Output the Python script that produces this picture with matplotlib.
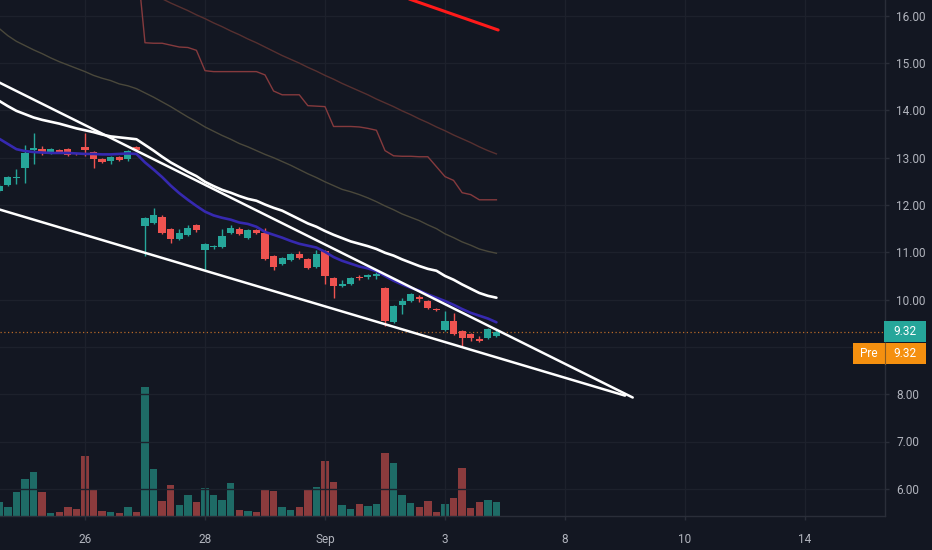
import numpy as np
import matplotlib
matplotlib.use("Agg")
import matplotlib.pyplot as plt
from matplotlib.patches import Rectangle
from matplotlib.lines import Line2D

# ---------------- data (hourly bars, bar 0 = first hour of Aug 26) ----------------
bar_start = -10
opens = [12.30, 12.43, 12.57, 12.79, 13.17, 13.19, 13.10, 13.17, 13.19, 13.09,
         13.23, 13.12, 12.98, 12.93, 13.02, 12.98, 13.23,
         11.56, 11.62, 11.75, 11.50, 11.29, 11.37, 11.58,
         11.05, 11.11, 11.12, 11.41, 11.50, 11.31, 11.48,
         11.41, 10.93, 10.76, 10.84, 10.97, 10.86, 10.69,
         11.03, 10.46, 10.29, 10.33, 10.48, 10.48, 10.50,
         10.25, 9.53, 9.89, 9.97, 10.04, 9.97, 9.81,
         9.36, 9.55, 9.34, 9.28, 9.17, 9.19, 9.23]
highs = [12.45, 12.62, 12.77, 13.27, 13.53, 13.25, 13.21, 13.19, 13.21, 13.10,
         13.53, 13.14, 13.00, 13.04, 13.03, 13.16, 13.25,
         11.75, 11.94, 11.78, 11.52, 11.50, 11.58, 11.60,
         11.20, 11.16, 11.50, 11.58, 11.54, 11.50, 11.50,
         11.52, 10.95, 10.90, 10.99, 11.03, 10.88, 11.05,
         11.05, 10.48, 10.42, 10.48, 10.52, 10.55, 10.59,
         10.27, 9.89, 10.04, 10.14, 10.10, 9.99, 9.83,
         9.76, 9.72, 9.36, 9.30, 9.23, 9.40, 9.36]
lows = [12.28, 12.41, 12.45, 12.47, 12.86, 13.06, 13.08, 13.11, 13.04, 13.05,
        13.04, 12.79, 12.89, 12.87, 12.94, 12.94, 13.15,
        10.93, 11.60, 11.39, 11.20, 11.27, 11.35, 11.43,
        10.61, 11.08, 11.10, 11.39, 11.37, 11.29, 11.39,
        10.84, 10.63, 10.74, 10.82, 10.86, 10.65, 10.67,
        10.33, 10.04, 10.27, 10.31, 10.42, 10.44, 10.44,
        9.45, 9.51, 9.70, 9.95, 9.95, 9.81, 9.76,
        9.34, 9.26, 9.02, 9.13, 9.11, 9.17, 9.21]
closes = [12.41, 12.60, 12.60, 13.10, 13.20, 13.12, 13.19, 13.13, 13.06, 13.07,
          13.17, 12.98, 12.91, 13.02, 12.96, 13.15, 13.17,
          11.73, 11.79, 11.41, 11.29, 11.41, 11.52, 11.48,
          11.18, 11.13, 11.35, 11.52, 11.39, 11.48, 11.41,
          10.86, 10.69, 10.88, 10.97, 10.88, 10.67, 10.97,
          10.50, 10.29, 10.33, 10.46, 10.46, 10.52, 10.55,
          9.55, 9.87, 9.97, 10.12, 10.02, 9.83, 9.78,
          9.55, 9.28, 9.19, 9.19, 9.13, 9.38, 9.32]
volumes_k = [112, 72, 192, 296, 352, 192, 24, 32, 72, 56,
             480, 208, 40, 32, 24, 72, 32,
             1032, 376, 120, 248, 88, 168, 112,
             224, 168, 128, 264, 48, 40, 32,
             216, 200, 72, 48, 72, 216, 232,
             440, 272, 88, 56, 96, 80, 96,
             504, 424, 168, 104, 72, 120, 32,
             96, 144, 384, 64, 112, 128, 112]

# indicator lines (values per bar)
ema_blue = [13.40, 13.29, 13.18, 13.14, 13.12, 13.11, 13.10, 13.10, 13.10, 13.09,
            13.08, 13.08, 13.07, 13.07, 13.08, 13.09, 13.08,
            12.90, 12.75, 12.59, 12.41, 12.25, 12.11, 11.98,
            11.86, 11.78, 11.73, 11.69, 11.63, 11.60, 11.54,
            11.43, 11.37, 11.31, 11.24, 11.18, 11.14, 11.10,
            11.01, 10.90, 10.82, 10.76, 10.70, 10.66, 10.60,
            10.50, 10.40, 10.32, 10.25, 10.19, 10.11, 10.04,
            9.97, 9.89, 9.80, 9.72, 9.66, 9.60, 9.52]
band_white = [14.20, 14.09, 13.99, 13.92, 13.85, 13.80, 13.76, 13.72, 13.67, 13.62,
              13.58, 13.54, 13.49, 13.45, 13.43, 13.41, 13.39,
              13.27, 13.15, 13.02, 12.90, 12.80, 12.70, 12.61,
              12.49, 12.40, 12.32, 12.26, 12.19, 12.13, 12.09,
              12.01, 11.94, 11.88, 11.79, 11.70, 11.61, 11.54,
              11.45, 11.37, 11.30, 11.23, 11.18, 11.13, 11.07,
              10.99, 10.93, 10.85, 10.78, 10.71, 10.65, 10.61,
              10.50, 10.42, 10.32, 10.23, 10.14, 10.08, 10.04]
ma_gray = [15.73, 15.58, 15.46, 15.37, 15.28, 15.20, 15.11, 15.03, 14.96, 14.89,
           14.82, 14.74, 14.68, 14.63, 14.56, 14.52, 14.46,
           14.37, 14.28, 14.18, 14.08, 13.97, 13.86, 13.76,
           13.65, 13.56, 13.47, 13.39, 13.30, 13.23, 13.15,
           13.07, 13.00, 12.92, 12.84, 12.75, 12.66, 12.58,
           12.49, 12.41, 12.33, 12.28, 12.22, 12.15, 12.07,
           11.98, 11.90, 11.81, 11.74, 11.67, 11.58, 11.50,
           11.39, 11.31, 11.22, 11.15, 11.07, 11.02, 10.98]
ma_darkred_start = 9
ma_darkred = [16.36, 16.27, 16.19, 16.11, 16.02,
              15.94, 15.85, 15.77, 15.68, 15.60, 15.51, 15.43,
              15.34, 15.25, 15.16, 15.08, 15.00, 14.91, 14.83,
              14.74, 14.66, 14.57, 14.49, 14.41, 14.33, 14.24,
              14.16, 14.08, 13.99, 13.91, 13.82, 13.74, 13.65,
              13.57, 13.48, 13.40, 13.32, 13.23, 13.15, 13.08]
step_start = 6
step_red = [17.30,
            15.43, 15.42, 15.42, 15.38, 15.34, 15.33, 15.27,
            14.84, 14.82, 14.82, 14.82, 14.82, 14.82, 14.82,
            14.75, 14.41, 14.33, 14.33, 14.33, 14.10, 14.09,
            14.08, 13.66, 13.66, 13.66, 13.65, 13.62, 13.58,
            13.15, 13.04, 13.03, 13.03, 13.02, 13.02, 12.81,
            12.60, 12.52, 12.26, 12.22, 12.11, 12.11, 12.11]

# drawn trend lines (bar index, price)
upper_trend = ([-11, 63.9], [14.68, 7.93])
lower_trend = ([-11, 63.0], [11.96, 7.97])
red_trend = ([36, 48.2], [16.47, 15.70])

last_price = 9.32
pre_price = 9.32

tick_labels = ["26", "28", "Sep", "3", "8", "10", "14"]
tick_trading_days = [0, 2, 4, 6, 8, 10, 12]   # trading days after Aug 26
bars_per_day = 7
price_ticks = [6, 7, 8, 9, 10, 11, 12, 13, 14, 15, 16]

# ---------------- style ----------------
BG = "#131722"
GRID = "#1d212c"
AXLINE = "#2a2e39"
TXT = "#b2b5be"
GREEN = "#26a69a"
RED = "#ef5350"
VGREEN = "#1e6b66"
VRED = "#8b3b3d"
FONT = "Roboto"
FS = 8.5

W, H = 932, 550
fig = plt.figure(figsize=(W / 100, H / 100), dpi=100, facecolor=BG)
rect = [0, (H - 516) / H, 885 / W, 516 / H]
axv = fig.add_axes(rect, label="vol")
ax = fig.add_axes(rect, label="price")
axv.set_zorder(0)
ax.set_zorder(1)
ax.patch.set_alpha(0)
axv.set_facecolor(BG)

x = np.arange(bar_start, bar_start + len(closes))
o = np.array(opens); c = np.array(closes)
hi = np.array(highs); lo = np.array(lows)
up = c >= o

px_per_bar = 60 / 7
xmin = -85 / px_per_bar
xmax = (885 - 85) / px_per_bar
ymin, ymax = 16 - (516 - 15.8) / 47.3, 16 + 15.8 / 47.3

# volume
axv.bar(x, volumes_k, width=0.88, color=np.where(up, VGREEN, VRED), linewidth=0)
axv.set_xlim(xmin, xmax)
axv.set_ylim(0, max(volumes_k) * 516 / 129)
axv.axis("off")

# grid
for p in price_ticks:
    ax.axhline(p, color=GRID, lw=1.0, zorder=0)
tick_pos = [d * bars_per_day for d in tick_trading_days]
for t in tick_pos:
    ax.axvline(t, color=GRID, lw=1.0, zorder=0)

# price line
ax.axhline(last_price, color="#b86a28", lw=0.9, ls=(0, (1, 2)), zorder=2)

# candles
cols = np.where(up, GREEN, RED)
ax.vlines(x, lo, hi, colors=cols, lw=1.0, zorder=3)
body_b = np.minimum(o, c)
body_h = np.maximum(np.abs(c - o), 0.025)
ax.bar(x, body_h, bottom=body_b, width=0.85, color=cols, linewidth=0, zorder=4)

# indicators
ax.plot(np.arange(step_start, step_start + len(step_red)), step_red,
        color="#853a3d", lw=1.0, zorder=5)
ax.plot(np.arange(ma_darkred_start, ma_darkred_start + len(ma_darkred)), ma_darkred,
        color="#573030", lw=1.0, zorder=5)
ax.plot(x, ma_gray, color="#4a483b", lw=1.0, zorder=5)
ax.plot(x, ema_blue, color="#3629b0", lw=1.9, zorder=6, solid_capstyle="round")
ax.plot(x, band_white, color="white", lw=1.9, zorder=7, solid_capstyle="round")
ax.plot(*upper_trend, color="white", lw=1.8, zorder=7, solid_capstyle="round")
ax.plot(*lower_trend, color="white", lw=1.8, zorder=7, solid_capstyle="round")
ax.plot(*red_trend, color="#ff1a1a", lw=2.2, zorder=7, solid_capstyle="round")

ax.set_xlim(xmin, xmax)
ax.set_ylim(ymin, ymax)

# axes decorations
for s in ["top", "left"]:
    ax.spines[s].set_visible(False)
for s in ["right", "bottom"]:
    ax.spines[s].set_color(AXLINE)
    ax.spines[s].set_linewidth(1.0)
ax.yaxis.tick_right()
ax.set_yticks(price_ticks)
ax.set_yticklabels(["" if p == 9 else f"{p:.2f}" for p in price_ticks])
ax.set_xticks(tick_pos)
ax.set_xticklabels(tick_labels)
ax.tick_params(axis="y", colors=AXLINE, length=3, width=1, pad=5,
               labelcolor=TXT, labelsize=FS)
ax.tick_params(axis="x", colors=AXLINE, length=3, width=1, pad=9,
               labelcolor=TXT, labelsize=FS)
for lab in ax.get_xticklabels() + ax.get_yticklabels():
    lab.set_fontfamily(FONT)

# price tags
fig.canvas.draw()
yd = ax.transData.transform((0, last_price))[1]
tag_h = 21
fig.add_artist(Rectangle((884 / W, (yd - tag_h / 2) / H), 42 / W, tag_h / H,
                         transform=fig.transFigure, fc=GREEN, ec="none", zorder=10))
fig.text(893 / W, yd / H, f"{last_price:.2f}", color="white", fontsize=FS,
         family=FONT, ha="left", va="center", zorder=11)
yp = yd - tag_h - 1
fig.add_artist(Rectangle((853 / W, (yp - tag_h / 2) / H), 73 / W, tag_h / H,
                         transform=fig.transFigure, fc="#f5900f", ec="none", zorder=10))
fig.add_artist(Line2D([884.5 / W, 884.5 / W], [(yp - tag_h / 2) / H, (yp + tag_h / 2) / H],
                      transform=fig.transFigure, color="#8a5a20", lw=0.8, zorder=11))
fig.text(869 / W, yp / H, "Pre", color="white", fontsize=FS, family=FONT,
         ha="center", va="center", zorder=11)
fig.text(893 / W, yp / H, f"{pre_price:.2f}", color="white", fontsize=FS,
         family=FONT, ha="left", va="center", zorder=11)

fig.savefig("out.png", dpi=100, facecolor=BG)
